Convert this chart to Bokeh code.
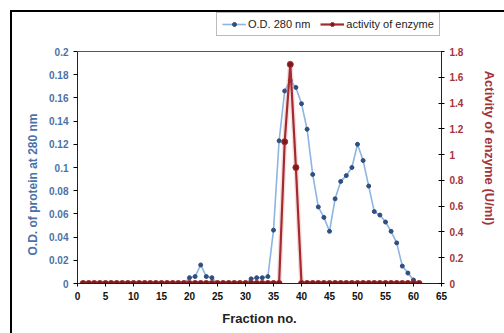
from bokeh.plotting import figure
from bokeh.models import (Range1d, LinearAxis, FixedTicker, CustomJSTickFormatter,
                          Legend, LegendItem, Span, Title)
from bokeh.embed import file_html
from bokeh.resources import INLINE

fractions = list(range(1, 62))
od_280 = ([0.0] * 19 +
          [0.005, 0.006, 0.016, 0.006, 0.005] +
          [0.0] * 6 +
          [0.004, 0.005, 0.005, 0.006, 0.046, 0.123, 0.166, 0.175, 0.169, 0.155,
           0.133, 0.094, 0.066, 0.057, 0.045, 0.073, 0.088, 0.093, 0.100, 0.120,
           0.106, 0.084, 0.062, 0.059, 0.053, 0.045, 0.035, 0.015, 0.009, 0.003, 0.0])
activity = ([0.0] * 36 + [1.1, 1.7, 0.9] + [0.0] * 22)

left_ticks = [0, 0.02, 0.04, 0.06, 0.08, 0.1, 0.12, 0.14, 0.16, 0.18, 0.2]
right_ticks = [0, 0.2, 0.4, 0.6, 0.8, 1.0, 1.2, 1.4, 1.6, 1.8]
x_ticks = list(range(0, 70, 5))

BLUE_TXT = "#4a72a8"
RED_TXT = "#a3343a"
FONT = "Liberation Sans"

# frame extends above the plotted area to hold the legend
EXT = 271 / 232.0
p = figure(output_backend="svg", toolbar_location=None,
           x_range=Range1d(0, 65), y_range=Range1d(0, left_ticks[-1] * EXT),
           frame_width=364, frame_height=271,
           min_border_left=65, min_border_right=63, min_border_top=0, min_border_bottom=50)
p.margin = (10, 0, 0, 10)
p.styles = {"border-left": "2px solid #000000", "border-top": "2px solid #000000"}
p.extra_y_ranges = {"act": Range1d(0, right_ticks[-1] * EXT)}
p.xgrid.visible = False
p.ygrid.visible = False
p.outline_line_color = None

fmt = CustomJSTickFormatter(code="return String(Math.round(tick*1000)/1000);")

# x axis
xa = p.xaxis[0]
xa.ticker = FixedTicker(ticks=x_ticks)
xa.axis_label = "Fraction no."
xa.axis_label_text_font = FONT
xa.axis_label_text_font_style = "bold"
xa.axis_label_text_font_size = "13px"
xa.axis_label_text_color = "#222222"
xa.axis_label_standoff = 8
xa.major_label_text_font = FONT
xa.major_label_text_font_style = "bold"
xa.major_label_text_font_size = "10px"
xa.major_label_text_color = "#111111"
xa.major_tick_in = 0
xa.major_tick_out = 3
xa.minor_tick_line_color = None
xa.axis_line_color = "#222222"

# left axis
ya = p.yaxis[0]
ya.ticker = FixedTicker(ticks=left_ticks)
ya.bounds = (left_ticks[0], left_ticks[-1])
ya.formatter = fmt
ya.major_label_text_font = FONT
ya.major_label_text_font_style = "bold"
ya.major_label_text_font_size = "10px"
ya.major_label_text_color = BLUE_TXT
ya.major_tick_in = 0
ya.major_tick_out = 4
ya.minor_tick_line_color = None
ya.axis_line_color = "#222222"

left_title = Title(text="O.D. of protein at 280 nm", align="left", offset=28,
                   text_font=FONT, text_font_style="bold", text_font_size="12px",
                   text_color=BLUE_TXT, standoff=13)
p.add_layout(left_title, "left")

# right axis
ra = LinearAxis(y_range_name="act", ticker=FixedTicker(ticks=right_ticks), formatter=fmt,
                bounds=(right_ticks[0], right_ticks[-1]))
ra.axis_label = "Activity of enzyme (U/ml)"
ra.axis_label_text_font = FONT
ra.axis_label_text_font_style = "bold"
ra.axis_label_text_font_size = "13px"
ra.axis_label_text_color = RED_TXT
ra.axis_label_standoff = 16
ra.major_label_text_font = FONT
ra.major_label_text_font_style = "bold"
ra.major_label_text_font_size = "10px"
ra.major_label_text_color = RED_TXT
ra.major_tick_in = 3
ra.major_tick_out = 3
ra.minor_tick_line_color = None
ra.axis_line_color = "#222222"
p.add_layout(ra, "right")

# top edge of the plot area
p.add_layout(Span(location=left_ticks[-1], dimension="width",
                  line_color="#555555", line_width=1))

# series
bl = p.line(fractions, od_280, line_color="#8db4e2", line_width=1.6)
bs = p.scatter(fractions, od_280, marker="circle", size=4, fill_color="#2f4f80",
               line_color="#2f4f80")
p.line(fractions, activity, y_range_name="act", line_color="#e0a0a4", line_width=5,
       line_alpha=0.35)
rl = p.line(fractions, activity, y_range_name="act", line_color="#a52a2e", line_width=2.2)
rs = p.scatter(fractions, activity, y_range_name="act", marker="circle", size=6,
               fill_color="#7a1a1c", line_color="#9e2a2e", line_width=1)

legend = Legend(items=[LegendItem(label="O.D. 280 nm", renderers=[bl, bs]),
                       LegendItem(label="activity of enzyme", renderers=[rl, rs])],
                orientation="horizontal", location=(139, 247),
                label_text_font=FONT, label_text_font_size="11px",
                label_text_color="#222222", glyph_width=24, glyph_height=10,
                label_standoff=2, spacing=10, padding=5, margin=0,
                border_line_color="#777777", border_line_width=1,
                background_fill_color="white", background_fill_alpha=1)
p.add_layout(legend, "center")

open("out.html", "w").write(file_html(p, INLINE))
